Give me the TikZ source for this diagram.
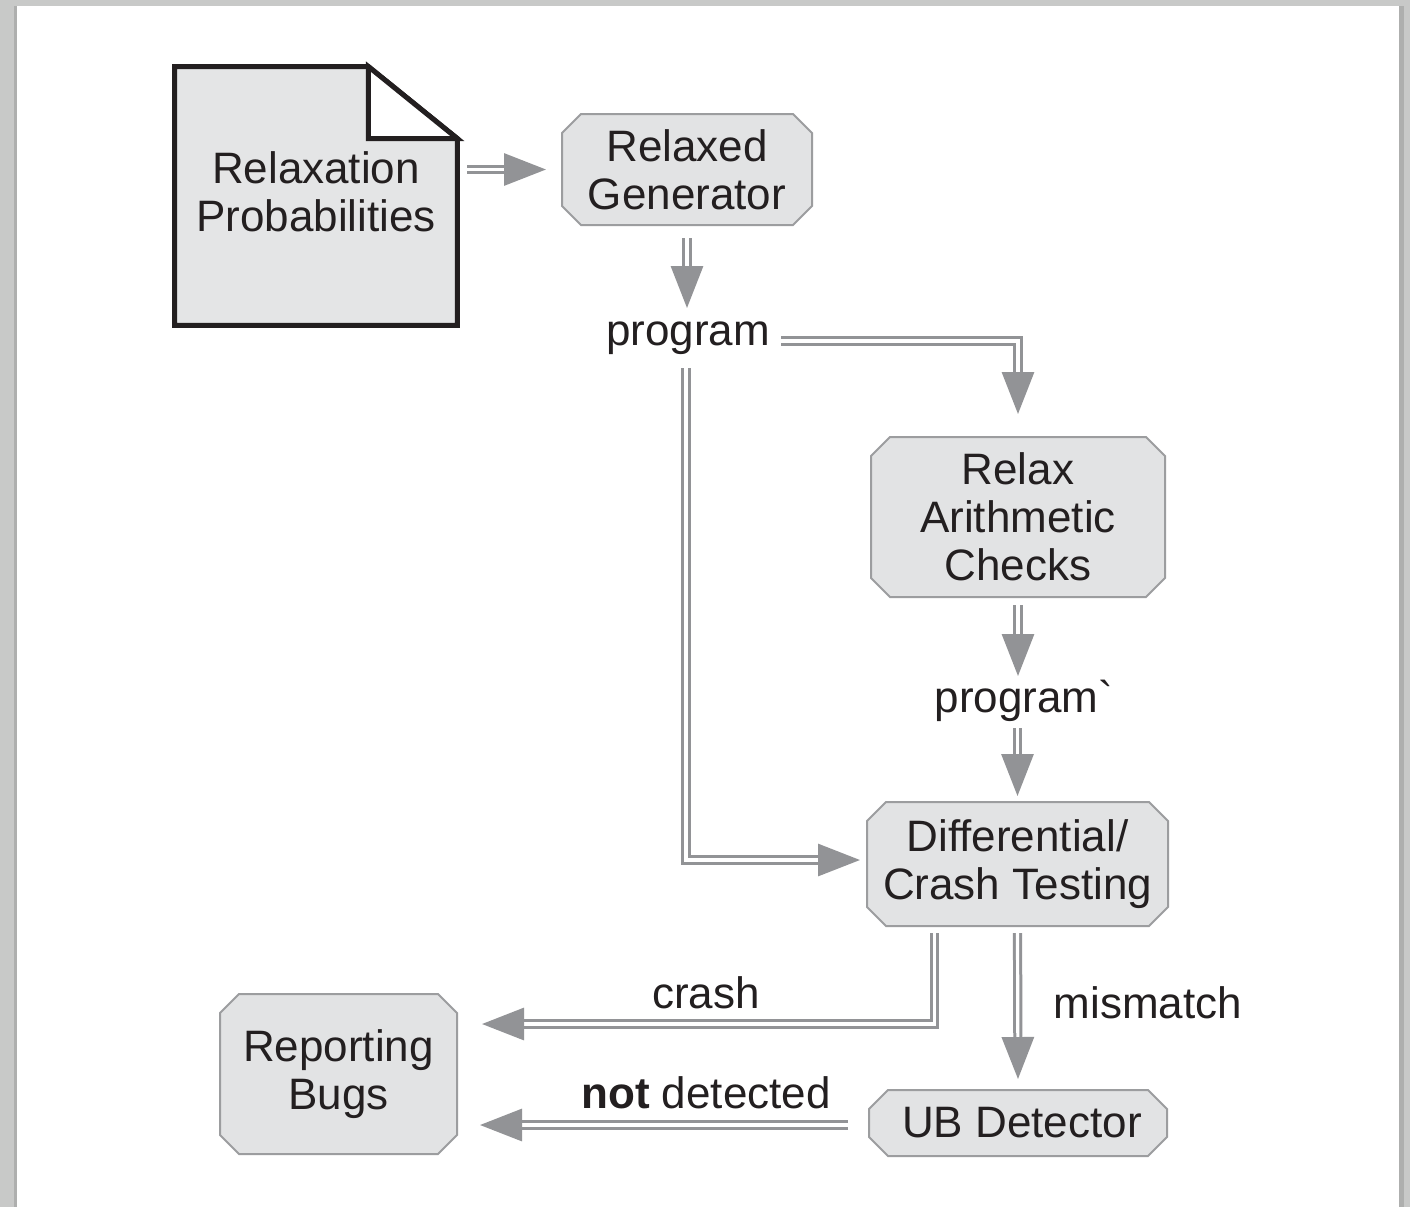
\documentclass[tikz,border=0pt]{standalone}
\usepackage{fontspec}
\setmainfont{Liberation Sans}
\newfontfamily\plainfont{Liberation Sans}[Ligatures=TeXOff]
\usetikzlibrary{shapes.misc,arrows.meta,calc}
\definecolor{pagebg}{HTML}{C8C9C8}
\definecolor{pageedge}{HTML}{AEAFAE}
\definecolor{boxfill}{HTML}{E2E3E4}
\definecolor{docfill}{HTML}{E4E5E6}
\definecolor{boxline}{HTML}{9C9D9F}
\definecolor{flow}{HTML}{929396}
\definecolor{ink}{HTML}{231F20}
\begin{document}
\begin{tikzpicture}[x=0.5pt,y=-0.5pt,
  font=\fontsize{22}{24}\selectfont,
  every node/.style={text=ink},
  box/.style={chamfered rectangle, chamfered rectangle xsep=6pt,
    draw=boxline, fill=boxfill, line width=1pt, align=center, inner sep=2pt},
  lbl/.style={inner sep=0pt, anchor=base},
  flowarrow/.style={draw=flow, double=white, line width=1.5pt,
    double distance=1.6pt, line join=miter,
    -{Triangle[length=21pt,width=16pt]}}]
\useasboundingbox (0,0) rectangle (1410,1207);
% page on a grey backdrop
\fill[pagebg] (0,0) rectangle (1410,1207);
\fill[pageedge] (14,6) rectangle (1404,1207);
\fill[white] (17,6) rectangle (1399,1207);

% the input document with its folded corner
\node[minimum width=141pt, minimum height=129pt, inner sep=0pt, align=center]
  (doc) at (316,196) {};
\filldraw[draw=ink, fill=docfill, line width=2.5pt, line join=miter]
  (doc.north west) -- ($(doc.north east)+(-89,0)$) -- ($(doc.north east)+(0,72)$)
  -- (doc.south east) -- (doc.south west) -- cycle;
\filldraw[draw=ink, fill=white, line width=2.5pt, line join=miter]
  ($(doc.north east)+(-89,0)$) -- ($(doc.north east)+(-89,72)$)
  -- ($(doc.north east)+(0,72)$) -- cycle;
\node[align=center, inner sep=0pt] (doctext) at (316,192) {Relaxation\\Probabilities};

% processing steps
\node[box, minimum width=125pt, minimum height=55.5pt] (rg) at (687,169.5) {Relaxed\\Generator};
\node[box, minimum width=147pt, minimum height=80pt] (rac) at (1018,517) {Relax\\Arithmetic\\Checks};
\node[box, minimum width=150.5pt, minimum height=62pt] (dct) at (1017.5,864) {Differential/\\Crash Testing};
\node[box, minimum width=149pt, minimum height=33pt] (ub) at (1018,1123) {\hspace*{4pt}UB Detector};
\node[box, minimum width=118.5pt, minimum height=80pt] (rb) at (338.5,1074) {Reporting\\Bugs};

% intermediate artefacts and edge labels
\node[lbl] (prog) at (688,345) {program};
\node[lbl] (prog2) at (1024,712) {program{\plainfont\symbol{96}}};
\node[lbl] (crash) at (706,1008) {crash};
\node[lbl] (mismatch) at (1148,1018) {mismatch};
\node[lbl] (notdet) at (706,1108) {\textbf{not} detected};

% flow
\draw[flowarrow] ($(doc.east |- rg.west)+(10,0)$) -- ($(rg.west)+(-15,0)$);
\draw[flowarrow] ($(rg.south)+(0,12)$) -- ($(rg.south |- prog.base)+(0,-37)$);
\draw[flowarrow] ($(prog.base east)+(11,-4)$) -| ($(rac.north)+(0,-22)$);
\draw[flowarrow] ($(rac.south)+(0,7)$) -- ($(rac.south |- prog2.base)+(0,-36)$);
\draw[flowarrow] ($(dct.north |- prog2.base)+(0,16)$) -- ($(dct.north)+(0,-5)$);
\draw[flowarrow] ($(prog.base)+(-2,23)$) |- ($(dct.west)+(-6,-4)$);
\draw[flowarrow] ($(dct.south)+(-83,6)$) |- ($(rb.east)+(24,-50)$);
\draw[flowarrow] ($(dct.south)+(0,6)$) -- ($(ub.north)+(0,-10)$);
\draw[flowarrow] ($(ub.west)+(-20,2)$) -- ($(rb.east |- ub.west)+(22,2)$);
\end{tikzpicture}
\end{document}
